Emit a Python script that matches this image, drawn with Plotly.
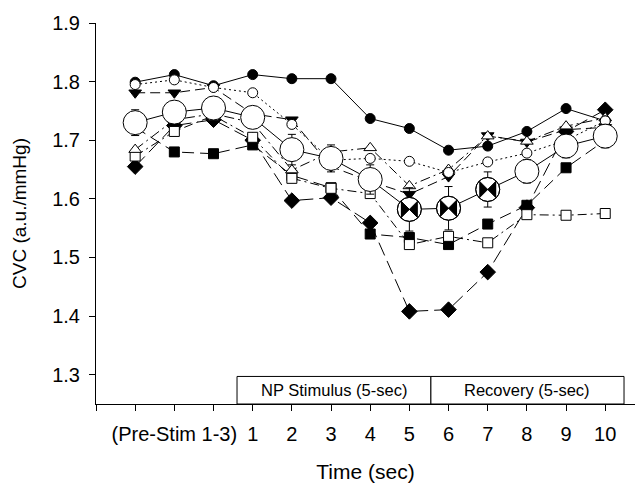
import plotly.graph_objects as go

# x positions: 1-3 = pre-stim, 4-13 = time 1..10 sec
x_pos = [1, 2, 3, 4, 5, 6, 7, 8, 9, 10, 11, 12, 13]
tick_vals = list(range(0, 14))
tick_text = ["", "", "(Pre-Stim 1-3)", "", "1", "2", "3", "4", "5", "6", "7", "8", "9", "10"]

filled_circle = [1.799, 1.812, 1.793, 1.812, 1.805, 1.805, 1.737, 1.720, 1.683, 1.690, 1.715, 1.754, 1.733]
open_circle = [1.795, 1.803, 1.790, 1.781, 1.727, 1.666, 1.669, 1.664, 1.645, 1.663, 1.678, 1.700, 1.733]
down_tri = [1.781, 1.781, 1.790, 1.745, 1.735, 1.655, 1.630, 1.608, 1.638, 1.708, 1.697, 1.718, 1.722]
open_tri = [1.684, 1.735, 1.745, 1.730, 1.649, 1.680, 1.687, 1.622, 1.650, 1.707, 1.698, 1.724, 1.738]
open_sq = [1.673, 1.715, 1.742, 1.705, 1.635, 1.618, 1.609, 1.522, 1.536, 1.525, 1.573, 1.572, 1.575]
filled_sq = [1.722, 1.680, 1.677, 1.692, 1.640, 1.619, 1.540, 1.534, 1.522, 1.557, 1.589, 1.653, 1.700]
diamond = [1.655, 1.725, 1.735, 1.700, 1.597, 1.602, 1.559, 1.408, 1.411, 1.475, 1.585, 1.715, 1.752]
mean_vals = [1.730, 1.748, 1.755, 1.739, 1.684, 1.669, 1.633, 1.582, 1.584, 1.616, 1.647, 1.690, 1.707]
mean_err = [0.022, 0.018, 0.018, 0.018, 0.026, 0.023, 0.025, 0.037, 0.037, 0.030, 0.020, 0.020, 0.020]
significant = [False, False, False, False, False, False, False, True, True, True, False, False, False]

y_ticks = [1.3, 1.4, 1.5, 1.6, 1.7, 1.8, 1.9]
box_labels = ["NP Stimulus (5-sec)", "Recovery (5-sec)"]
box_edges = [3.6, 8.55, 13.48]

FONT = "Liberation Sans, Arial, sans-serif"
fig = go.Figure()

def add_series(y, symbol, size, dash, fill):
    fig.add_trace(go.Scatter(
        x=x_pos, y=y, mode="lines+markers",
        line=dict(color="black", width=1, dash=dash),
        marker=dict(symbol=symbol, size=size, color=fill,
                    line=dict(color="black", width=1)),
        hoverinfo="skip"))

add_series(diamond, "diamond", 12, "14px,6px", "black")
add_series(filled_sq, "square", 10, "12px,6px", "black")
add_series(open_sq, "square", 10, "9px,4px,2px,4px", "white")
add_series(down_tri, "triangle-down", 11, "10px,5px", "black")
add_series(open_tri, "triangle-up", 11, "10px,4px,2px,4px", "white")
add_series(filled_circle, "circle", 10, "solid", "black")
add_series(open_circle, "circle", 10, "2px,3px", "white")

# mean with error bars
fig.add_trace(go.Scatter(
    x=x_pos, y=mean_vals, mode="lines+markers",
    line=dict(color="black", width=1),
    marker=dict(symbol="circle", size=24, color="white",
                line=dict(color="black", width=1)),
    error_y=dict(type="data", array=mean_err, visible=True,
                 color="black", thickness=1, width=4),
    hoverinfo="skip"))

sig_x = [x for x, s in zip(x_pos, significant) if s]
sig_y = [y for y, s in zip(mean_vals, significant) if s]
fig.add_trace(go.Scatter(
    x=sig_x, y=sig_y, mode="markers",
    marker=dict(symbol="bowtie", size=17, color="black", line=dict(width=0)),
    hoverinfo="skip"))
fig.add_trace(go.Scatter(
    x=sig_x, y=sig_y, mode="markers",
    marker=dict(symbol="circle-x-open", size=24, color="black",
                line=dict(color="black", width=1)),
    hoverinfo="skip"))

# stimulus / recovery boxes
for i, lab in enumerate(box_labels):
    fig.add_shape(type="rect", xref="x", yref="y",
                  x0=box_edges[i], x1=box_edges[i + 1], y0=1.25, y1=1.297,
                  line=dict(color="black", width=1), fillcolor="white", layer="above")
    fig.add_annotation(x=(box_edges[i] + box_edges[i + 1]) / 2, y=1.2735,
                       xref="x", yref="y", text=lab, showarrow=False,
                       font=dict(family=FONT, size=16.5, color="black"))

fig.update_layout(
    width=635, height=484,
    margin=dict(l=96, r=0, t=23, b=80),
    paper_bgcolor="white", plot_bgcolor="white",
    showlegend=False,
    font=dict(family=FONT, color="black"),
    xaxis=dict(range=[0, 13.76], tickmode="array", tickvals=tick_vals, ticktext=tick_text,
               ticks="outside", ticklen=6, tickcolor="black", tickwidth=1,
               showline=True, linecolor="black", linewidth=1,
               showgrid=False, zeroline=False,
               tickfont=dict(family=FONT, size=20, color="black"),
               ticklabelstandoff=6,
               title=dict(text="Time (sec)", font=dict(family=FONT, size=21, color="black"),
                          standoff=20)),
    yaxis=dict(range=[1.25, 1.9], tickmode="array", tickvals=y_ticks,
               ticktext=[f"{v:.1f}" for v in y_ticks],
               ticks="outside", ticklen=6, tickcolor="black", tickwidth=1,
               showline=True, linecolor="black", linewidth=1,
               showgrid=False, zeroline=False,
               tickfont=dict(family=FONT, size=20, color="black"),
               ticklabelstandoff=5,
               title=dict(text="CVC (a.u./mmHg)", font=dict(family=FONT, size=19, color="black"),
                          standoff=20)),
)

fig.write_html("out.html")
